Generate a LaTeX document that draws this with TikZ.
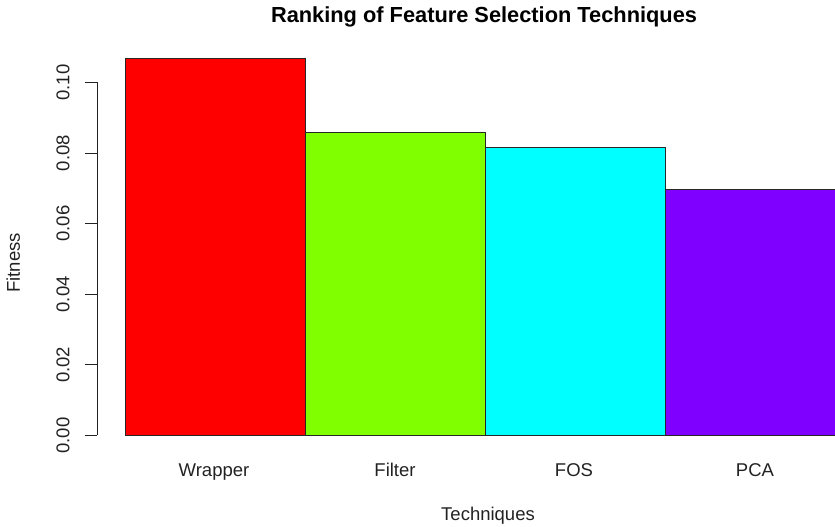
\documentclass[tikz,border=0pt]{standalone}
\usepackage{fontspec}
\setmainfont{Liberation Sans}
\definecolor{barRed}{HTML}{FF0000}
\definecolor{barGreen}{HTML}{80FF00}
\definecolor{barCyan}{HTML}{00FFFF}
\definecolor{barPurple}{HTML}{8000FF}
\definecolor{ink}{HTML}{222222}
\begin{document}
\begin{tikzpicture}[x=1pt,y=1pt,
  bar/.style={draw=black!85, line width=0.9pt},
  axislabel/.style={font=\fontsize{18.5}{20}\selectfont, text=ink, inner sep=0pt},
  ticklabel/.style={font=\fontsize{18.5}{20}\selectfont, text=ink, inner sep=0pt, rotate=90},
  axisline/.style={draw=ink, line width=0.9pt}
]
\useasboundingbox (0,0) rectangle (835,527);
\clip (0,0) rectangle (835,527);

% plot geometry: value 0 at y=91.5, one unit of fitness = 3530pt
\def\yz{91.5}
\def\ys{3530}

% bars
\draw[bar, fill=barRed]    (125,\yz) rectangle (305,{\yz+\ys*0.1068});
\draw[bar, fill=barGreen]  (305,\yz) rectangle (485,{\yz+\ys*0.0858});
\draw[bar, fill=barCyan]   (485,\yz) rectangle (665,{\yz+\ys*0.0815});
\draw[bar, fill=barPurple] (665,\yz) rectangle (845,{\yz+\ys*0.0697});

% y axis
\coordinate (ya) at (97,{\yz});
\coordinate (yb) at (97,{\yz+\ys*0.10});
\draw[axisline] (ya) -- (yb);
\foreach \v/\t [count=\i] in {0/0.00,0.02/0.02,0.04/0.04,0.06/0.06,0.08/0.08,0.10/0.10}{
  \coordinate (tk\i) at (97,{\yz+\ys*\v});
  \coordinate (tl\i) at (85,{\yz+\ys*\v});
  \draw[axisline] (tk\i) -- (tl\i);
  \node[ticklabel] (yl\i) at (63,{\yz+\ys*\v}) {\t};
}

% category labels
\node[axislabel, anchor=base] (lw) at (214,50) {Wrapper};
\node[axislabel, anchor=base] (lf) at (395,50) {Filter};
\node[axislabel, anchor=base] (lo) at (574,50) {FOS};
\node[axislabel, anchor=base] (lp) at (755,50) {PCA};

% axis titles
\node[axislabel, anchor=base] (xt) at (488,6) {Techniques};
\node[axislabel, rotate=90, anchor=base] (yt) at (20,264) {Fitness};

% main title
\node[font=\bfseries\fontsize{21.8}{24}\selectfont, anchor=base, inner sep=0pt] (title) at (484,504) {Ranking of Feature Selection Techniques};
\end{tikzpicture}
\end{document}
